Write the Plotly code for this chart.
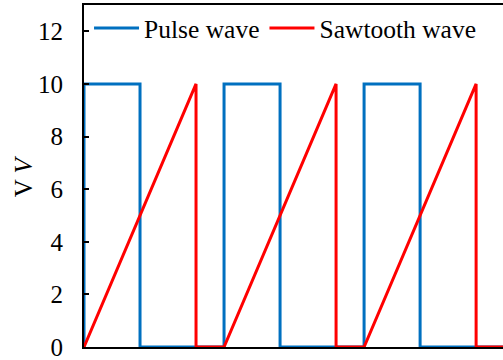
import plotly.graph_objects as go

# Time (arbitrary units) and voltages
pulse_t = [0, 0, 2, 2, 5, 5, 7, 7, 10, 10, 12, 12, 15]
pulse_v = [0, 10, 10, 0, 0, 10, 10, 0, 0, 10, 10, 0, 0]
saw_t = [0, 4, 4, 5, 9, 9, 10, 14, 14, 15]
saw_v = [0, 10, 0, 0, 10, 0, 0, 10, 0, 0]
y_ticks = [0, 2, 4, 6, 8, 10, 12]
y_title = "V <i>V</i>"

FONT = "Times New Roman, Liberation Serif, serif"

fig = go.Figure()
fig.add_trace(go.Scatter(x=pulse_t, y=pulse_v, mode="lines", name="Pulse wave",
                         line=dict(color="#0070C0", width=3)))
fig.add_trace(go.Scatter(x=saw_t, y=saw_v, mode="lines", name="Sawtooth wave",
                         line=dict(color="#FF0000", width=3)))

fig.update_layout(
    width=503, height=360,
    margin=dict(l=84, r=0, t=5, b=13, autoexpand=False),
    paper_bgcolor="white", plot_bgcolor="white",
    font=dict(family=FONT, size=25, color="black"),
    showlegend=True,
    legend=dict(orientation="h", x=0.012, y=1.0, xanchor="left", yanchor="top",
                bgcolor="rgba(0,0,0,0)", font=dict(family=FONT, size=25.5),
                itemwidth=45, tracegroupgap=0),
    xaxis=dict(range=[0, 14.96], showticklabels=False, ticks="", showgrid=False,
               zeroline=False, showline=True, linecolor="black", linewidth=2,
               mirror=True),
    yaxis=dict(range=[0, 13], tickvals=y_ticks, ticks="inside", ticklen=5,
               tickcolor="black", tickwidth=1.5, showgrid=False, zeroline=False,
               showline=True, linecolor="black", linewidth=2,
               tickfont=dict(family=FONT, size=25), ticklabelstandoff=14,
               ticklabeloverflow="allow"),
    annotations=[dict(text=y_title, xref="paper", yref="paper", x=-0.145, y=0.5,
                      xanchor="center", yanchor="middle", textangle=-90,
                      showarrow=False, font=dict(family=FONT, size=25))],
)

fig.write_html("out.html", config={"displayModeBar": False},
               post_script="document.body.style.margin='0px';document.body.style.padding='0px';")
